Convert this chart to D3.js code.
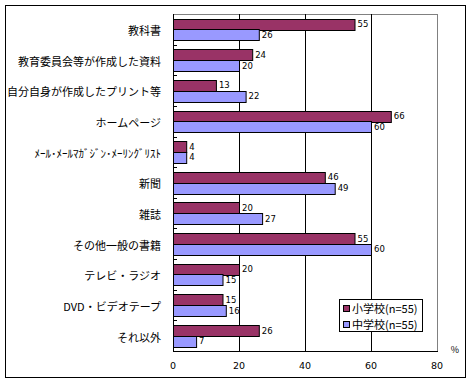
<!DOCTYPE html>
<html>
<head>
<meta charset="utf-8">
<script src="https://cdn.jsdelivr.net/npm/d3@7"></script>
<style>
  body { margin: 0; background: #fff; }
  svg text { font-family: "Noto Sans CJK JP", "DejaVu Sans", sans-serif; fill: #000; }
  svg text.num { font-family: "DejaVu Sans", sans-serif; }
</style>
</head>
<body>
<div id="chart"></div>
<script>
// data
var categories = [
    "教科書",
    "教育委員会等が作成した資料",
    "自分自身が作成したプリント等",
    "ホームページ",
    "ﾒｰﾙ･ﾒｰﾙﾏｶﾞｼﾞﾝ･ﾒｰﾘﾝｸﾞﾘｽﾄ",
    "新聞",
    "雑誌",
    "その他一般の書籍",
    "テレビ・ラジオ",
    "DVD・ビデオテープ",
    "それ以外"
];
var elementary = [55, 24, 13, 66, 4, 46, 20, 55, 20, 15, 26];
var juniorHigh = [26, 20, 22, 60, 4, 49, 27, 60, 15, 16, 7];
var seriesNames = ["小学校(n=55)", "中学校(n=55)"];
var seriesColors = ["#993366", "#9999ff"];
var xTicks = [0, 20, 40, 60, 80];

var width = 472, height = 384;
var plot = { left: 173, top: 14, right: 437, bottom: 351 };

var svg = d3.select("#chart").append("svg")
    .attr("width", width)
    .attr("height", height);

// outer frame
svg.append("rect")
    .attr("x", 5.5).attr("y", 5.5)
    .attr("width", 460).attr("height", 372)
    .attr("fill", "#fff")
    .attr("stroke", "#000");

var x = d3.scaleLinear().domain([0, 80]).range([plot.left, plot.right]);
var y = d3.scaleBand().domain(categories).range([plot.top, plot.bottom]);
var inner = d3.scaleBand().domain([0, 1])
    .range([0, y.bandwidth()])
    .paddingOuter(0.43);

// plot border
svg.append("rect")
    .attr("x", plot.left + 0.5).attr("y", plot.top + 0.5)
    .attr("width", plot.right - plot.left).attr("height", plot.bottom - plot.top)
    .attr("fill", "none")
    .attr("stroke", "#808080");

// gridlines
svg.append("g")
    .selectAll("line")
    .data(xTicks.slice(1, -1))
    .enter().append("line")
    .attr("x1", function(d) { return Math.round(x(d)) + 0.5; })
    .attr("x2", function(d) { return Math.round(x(d)) + 0.5; })
    .attr("y1", plot.top)
    .attr("y2", plot.bottom)
    .attr("stroke", "#000");

// bars
var series = [elementary, juniorHigh];
series.forEach(function(values, s) {
    var g = svg.append("g");
    g.selectAll("rect")
        .data(values)
        .enter().append("rect")
        .attr("x", x(0) + 0.5)
        .attr("y", function(d, i) { return Math.round(y(categories[i]) + inner(s)) + 0.5; })
        .attr("width", function(d) { return x(d) - x(0); })
        .attr("height", Math.round(inner.bandwidth()))
        .attr("fill", seriesColors[s])
        .attr("stroke", "#000");

    g.selectAll("text")
        .data(values)
        .enter().append("text")
        .attr("class", "num")
        .attr("x", function(d) { return x(d) + 3; })
        .attr("y", function(d, i) { return y(categories[i]) + inner(s) + inner.bandwidth() / 2; })
        .attr("dy", "0.38em")
        .style("font-size", "8.5px")
        .text(function(d) { return d; });
});

// left axis
svg.append("line")
    .attr("x1", plot.left + 0.5).attr("x2", plot.left + 0.5)
    .attr("y1", plot.top).attr("y2", plot.bottom + 1)
    .attr("stroke", "#000");
svg.append("line")
    .attr("x1", plot.left).attr("x2", plot.right + 1)
    .attr("y1", plot.bottom + 0.5).attr("y2", plot.bottom + 0.5)
    .attr("stroke", "#000");

svg.append("g")
    .selectAll("line")
    .data(categories.slice(1))
    .enter().append("line")
    .attr("x1", plot.left)
    .attr("x2", plot.left + 4)
    .attr("y1", function(d) { return Math.round(y(d)) + 0.5; })
    .attr("y2", function(d) { return Math.round(y(d)) + 0.5; })
    .attr("stroke", "#000");

// category labels
svg.append("g")
    .selectAll("text")
    .data(categories)
    .enter().append("text")
    .attr("x", 161)
    .attr("y", function(d) { return y(d) + y.bandwidth() / 2 + 2; })
    .attr("dy", "0.35em")
    .attr("text-anchor", "end")
    .style("font-size", "11px")
    .text(function(d) { return d; });

// x tick labels
svg.append("g")
    .selectAll("text")
    .data(xTicks)
    .enter().append("text")
    .attr("class", "num")
    .attr("x", function(d) { return x(d); })
    .attr("y", 369)
    .attr("text-anchor", "middle")
    .style("font-size", "9.5px")
    .text(function(d) { return d; });

svg.append("text")
    .attr("x", 455).attr("y", 353)
    .attr("text-anchor", "middle")
    .style("font-size", "9px")
    .text("%");

// legend
var legend = svg.append("g").attr("transform", "translate(339,299)");
legend.append("rect")
    .attr("x", 0.5).attr("y", 0.5)
    .attr("width", 83).attr("height", 32)
    .attr("fill", "#fff")
    .attr("stroke", "#000");
seriesNames.forEach(function(name, i) {
    legend.append("rect")
        .attr("x", 4.5).attr("y", 6.5 + i * 16)
        .attr("width", 6).attr("height", 6)
        .attr("fill", seriesColors[i])
        .attr("stroke", "#000");
    legend.append("text")
        .attr("x", 13).attr("y", 10 + i * 16)
        .attr("dy", "0.35em")
        .style("font-size", "11px")
        .text(name);
});
</script>
</body>
</html>
